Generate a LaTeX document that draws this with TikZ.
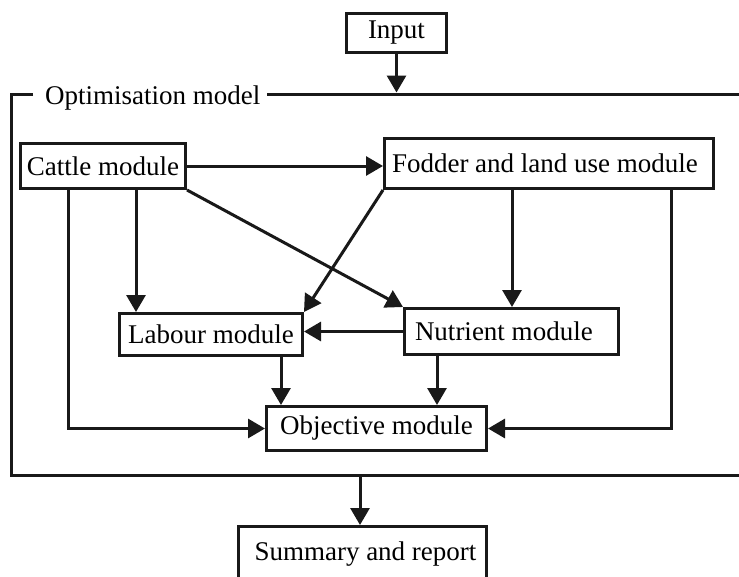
\documentclass[tikz,border=0pt]{standalone}
\usepackage{fontspec}
\setmainfont{Liberation Serif}
\usetikzlibrary{arrows.meta,calc}
\begin{document}
\begin{tikzpicture}[x=1pt,y=-1pt,
  box/.style={draw=black!90, line width=3pt, inner sep=0pt, font=\fontsize{27}{30}\selectfont},
  conn/.style={draw=black!90, line width=3pt, -{Triangle[length=17pt,width=19pt]}},
  frameline/.style={draw=black!90, line width=3pt, line join=miter}]
\clip (0,0) rectangle (739,576);
\fill[white] (0,0) rectangle (739,576);
% boxes
\node[box, minimum width=100pt, minimum height=39pt] (input) at (396.5,33) {Input};
\node[box, minimum width=165pt, minimum height=45pt] (cattle) at (103,166) {Cattle module};
\node[box, minimum height=50pt, inner xsep=7.5pt] (fodder) at (549,163.5) {\makebox[314pt][l]{Fodder and land use module}};
\node[box, minimum width=183pt, minimum height=42pt] (labour) at (211,334.5) {Labour module};
\node[box, minimum height=46pt, inner xsep=10.5pt] (nutrient) at (511.5,331.5) {\makebox[193pt][l]{Nutrient module}};
\node[box, minimum width=220pt, minimum height=44pt] (objective) at (376.5,428.5) {Objective module};
\node[box, minimum width=248pt, minimum height=56pt] (summary) at (362.5,554.5) {\hspace*{6pt}Summary and report};
% frame
\node[anchor=base west, inner sep=0pt, font=\fontsize{27}{30}\selectfont] (framelabel) at (45,104) {Optimisation model};
\coordinate (ftl) at (11,94);
\coordinate (fbl) at (11,475);
\coordinate (ftr) at (745,94);
\coordinate (fbr) at (745,475);
\coordinate (fgapl) at (33,94);
\coordinate (fgapr) at (267,94);
\coordinate (fin) at (396.5,92.5);
\coordinate (fout) at (360,475);
\draw[frameline] (fgapl) -- (ftl) -- (fbl) -- (fbr);
\draw[frameline] (fgapr) -- (ftr);
% connectors
\coordinate (xa) at (68,0);
\coordinate (xb) at (136,0);
\coordinate (xc) at (512,0);
\coordinate (xd) at (671,0);
\coordinate (xe) at (281,0);
\coordinate (xf) at (437,0);
\draw[conn] (input.south) -- (fin);
\draw[conn] (cattle.east) -- (cattle.east -| fodder.west);
\draw[conn] (cattle.south -| xb) -- (labour.north -| xb);
\draw[conn] (cattle.south east) -- (nutrient.north west);
\draw[conn] (fodder.south west) -- (labour.north east);
\draw[conn] (fodder.south -| xc) -- (nutrient.north -| xc);
\draw[conn] (nutrient.west) -- (nutrient.west -| labour.east);
\draw[conn] (labour.south -| xe) -- (objective.north -| xe);
\draw[conn] (nutrient.south -| xf) -- (objective.north -| xf);
\draw[conn] (cattle.south -| xa) |- (objective.west);
\draw[conn] (fodder.south -| xd) |- (objective.east);
\draw[conn] (fout) -- (fout |- summary.north);
\end{tikzpicture}
\end{document}
